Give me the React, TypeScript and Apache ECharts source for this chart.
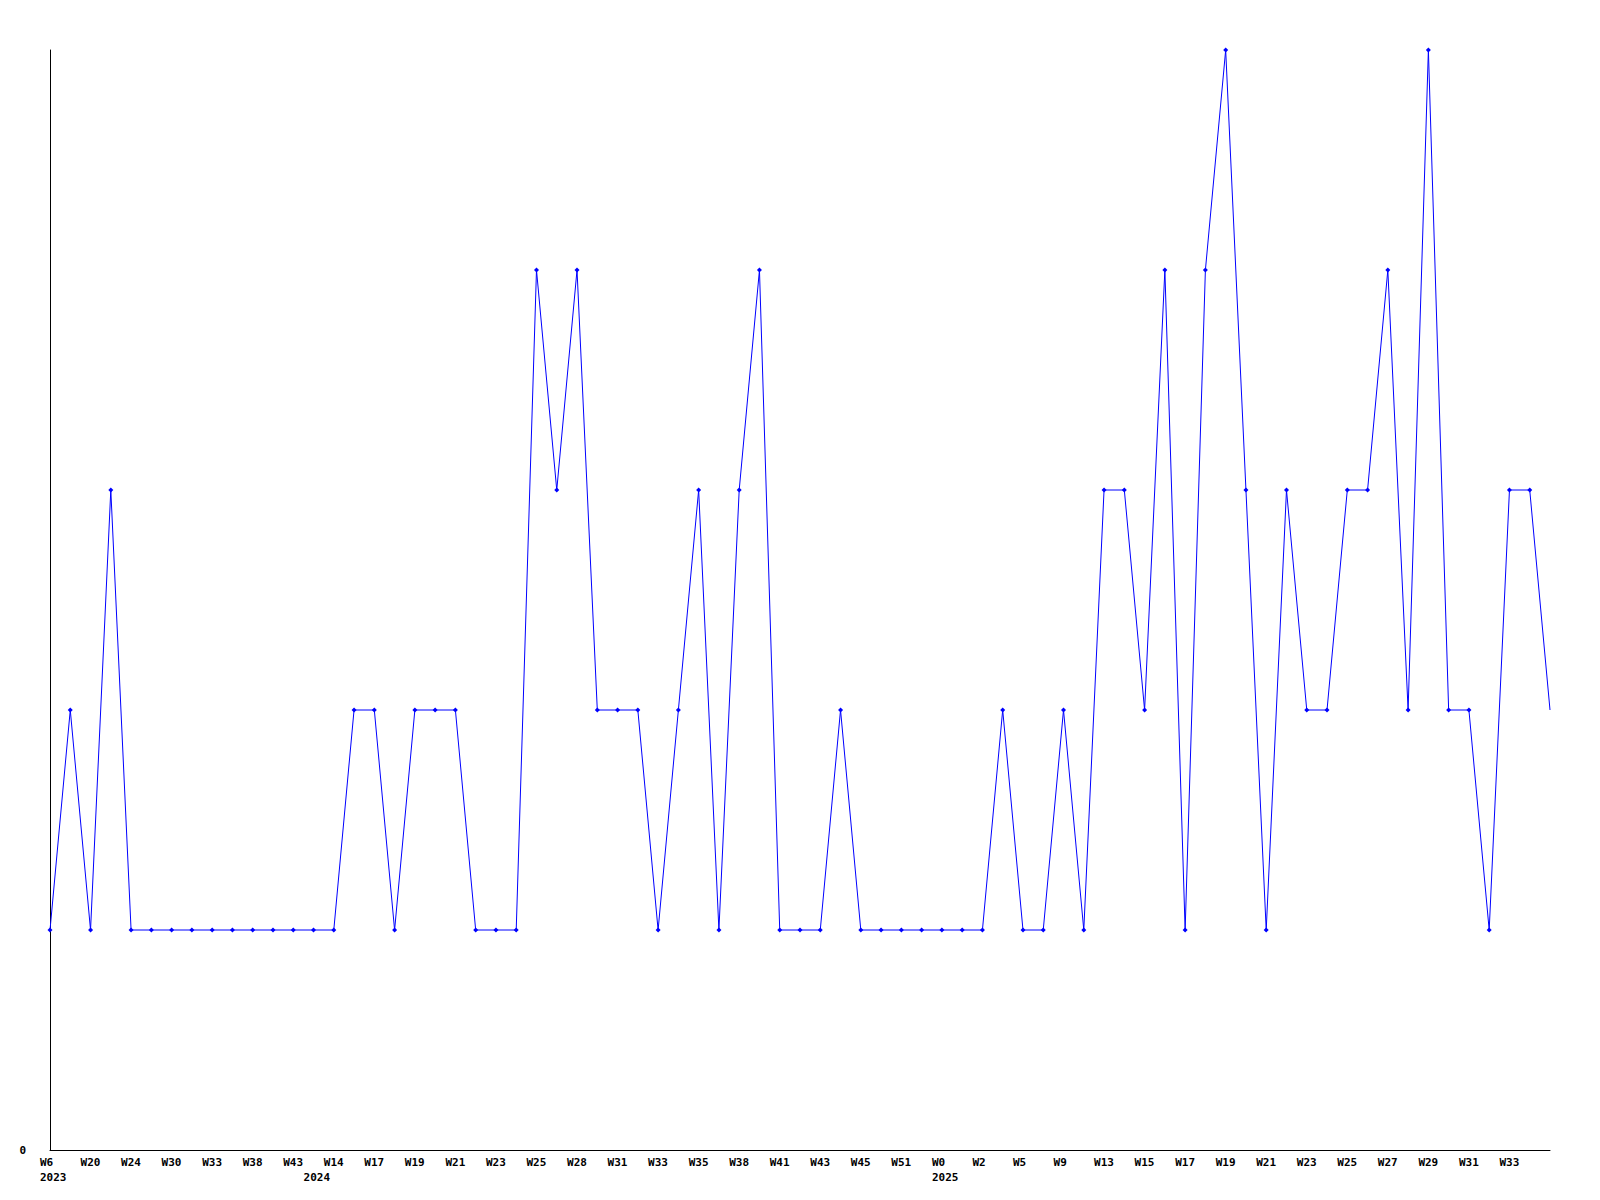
import React, { useEffect, useRef } from "react";
import * as echarts from "echarts";

const weeks = [
  "W6", "W8", "W20", "W22", "W24", "W27", "W30", "W31", "W33", "W36",
  "W38", "W40", "W43", "W3", "W14", "W16", "W17", "W18", "W19", "W20",
  "W21", "W22", "W23", "W24", "W25", "W26", "W28", "W30", "W31", "W32",
  "W33", "W34", "W35", "W37", "W38", "W39", "W41", "W42", "W43", "W44",
  "W45", "W48", "W51", "W52", "W0", "W1", "W2", "W3", "W5", "W8",
  "W9", "W11", "W13", "W14", "W15", "W16", "W17", "W18", "W19", "W20",
  "W21", "W22", "W23", "W24", "W25", "W26", "W27", "W28", "W29", "W30",
  "W31", "W32", "W33", "W34", "W35",
];

// year shown under the first point of each year
const yearMarks: { index: number; year: string }[] = [
  { index: 0, year: "2023" },
  { index: 13, year: "2024" },
  { index: 44, year: "2025" },
];

const values = [
  1, 2, 1, 3, 1, 1, 1, 1, 1, 1,
  1, 1, 1, 1, 1, 2, 2, 1, 2, 2,
  2, 1, 1, 1, 4, 3, 4, 2, 2, 2,
  1, 2, 3, 1, 3, 4, 1, 1, 1, 2,
  1, 1, 1, 1, 1, 1, 1, 2, 1, 1,
  2, 1, 3, 3, 2, 4, 1, 4, 5, 3,
  1, 3, 2, 2, 3, 3, 4, 2, 5, 2,
  2, 1, 3, 3, 2,
];

const yMax = 5;

export default function App() {
  const ref = useRef<HTMLDivElement>(null);
  useEffect(() => {
    document.body.style.margin = "0";
    if (!ref.current) return;
    const chart = echarts.init(ref.current, null, { renderer: "svg" });
    const yearAt = (i: number) => {
      const m = yearMarks.find((y) => y.index === i);
      return m ? m.year : "";
    };
    const font = {
      fontFamily: "DejaVu Sans Mono",
      fontWeight: "bold" as const,
      fontSize: 11,
      color: "#000",
    };
    chart.setOption({
      animation: false,
      backgroundColor: "#fff",
      grid: { left: 50, right: 50, top: 50, bottom: 50, containLabel: false },
      xAxis: {
        type: "category",
        data: weeks,
        boundaryGap: false,
        axisLine: { show: true, lineStyle: { color: "#000", width: 1 } },
        axisTick: { show: false },
        splitLine: { show: false },
        axisLabel: {
          ...font,
          interval: 0,
          margin: 5,
          lineHeight: 15,
          align: "center",
          rich: {
            t: { ...font, width: 20, align: "left", lineHeight: 15 },
          },
          formatter: (v: string, i: number) => {
            const y = yearAt(i);
            const w = i % 2 === 0 && i < weeks.length - 1 ? v : "";
            if (!w && !y) return "";
            return "{t|" + w + "}\n{t|" + y + "}";
          },
        },
      },
      yAxis: {
        type: "value",
        min: 0,
        max: yMax,
        interval: 5,
        axisLine: { show: true, lineStyle: { color: "#000", width: 1 } },
        axisTick: { show: false },
        splitLine: { show: false },
        axisLabel: {
          ...font,
          margin: 24,
          formatter: (v: number) => (v === 0 ? "0" : ""),
        },
      },
      series: [
        {
          type: "line",
          data: values.map((v, i) =>
            i === values.length - 1 ? { value: v, symbol: "none" } : v
          ),
          symbol: "diamond",
          symbolSize: 5,
          showAllSymbol: true,
          lineStyle: { color: "#0000ff", width: 1 },
          itemStyle: { color: "#0000ff" },
          emphasis: { disabled: true },
        },
      ],
    });
    return () => chart.dispose();
  }, []);
  return <div ref={ref} style={{ width: 1600, height: 1200 }} />;
}
